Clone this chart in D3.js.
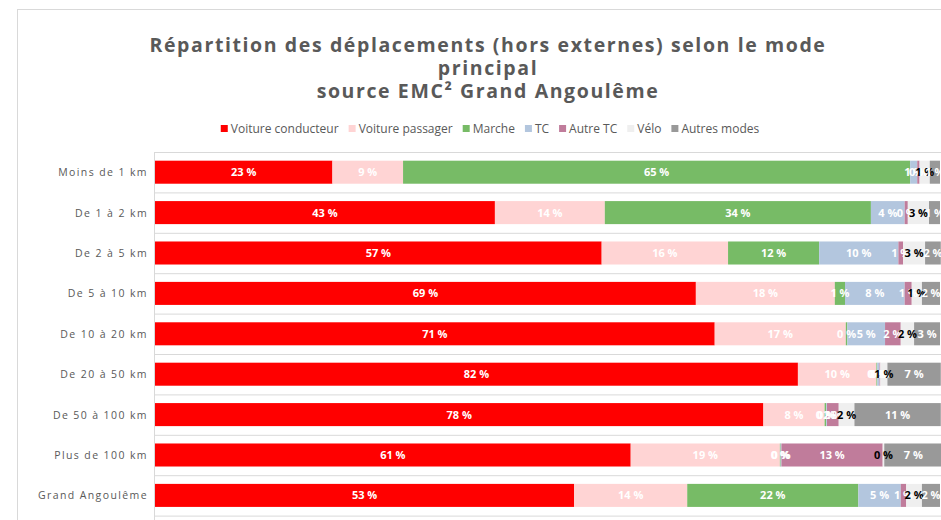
<!DOCTYPE html>
<html>
<head>
<meta charset="utf-8">
<script src="https://cdn.jsdelivr.net/npm/d3@7"></script>
<style>
  body { margin: 0; background: #fff; }
  text { font-family: "Open Sans", sans-serif; }
</style>
</head>
<body>
<svg id="chart" width="941" height="520"></svg>
<script>
// categories (top to bottom)
const categories = ["Moins de 1 km", "De 1 à 2 km", "De 2 à 5 km", "De 5 à 10 km", "De 10 à 20 km",
                    "De 20 à 50 km", "De 50 à 100 km", "Plus de 100 km", "Grand Angoulême"]
const modes = ["Voiture conducteur", "Voiture passager", "Marche", "TC", "Autre TC", "Vélo", "Autres modes"]
const modeColors = ["#ff0000", "#ffd4d4", "#77bb66", "#b3c6de", "#c07c9b", "#efefef", "#999999"]

// share of each mode (%), same order as categories
const voitureConducteur = [22.6, 43.3, 56.9, 68.9, 71.3, 81.9, 77.5, 60.6, 53.4]
const voiturePassager   = [9.0, 14.0, 16.1, 17.7, 16.7, 10.0, 7.8, 19.0, 14.4]
const marche            = [64.6, 33.9, 11.6, 1.3, 0.2, 0.1, 0.2, 0.1, 21.8]
const tc                = [0.9, 4.3, 10.1, 7.6, 4.8, 0.3, 0.1, 0.1, 5.4]
const autreTc           = [0.3, 0.4, 0.6, 0.9, 2.0, 0.1, 1.5, 12.9, 0.7]
const velo              = [1.3, 2.7, 2.8, 1.3, 1.7, 0.9, 2.0, 0.2, 2.0]
const autresModes       = [1.3, 1.4, 2.0, 2.3, 3.3, 6.8, 11.0, 7.4, 2.3]

const titleLines = ["Répartition des déplacements (hors externes) selon le mode", "principal", "source EMC² Grand Angoulême"]

let series = [voitureConducteur, voiturePassager, marche, tc, autreTc, velo, autresModes]
let rows = categories.map((c, i) => {
    let r = {cat: c}
    modes.forEach((m, j) => r[m] = series[j][i])
    return r
})
let stacked = d3.stack().keys(modes)(rows)

let svg = d3.select("#chart")
const grey = "#595959"
const lineCol = "#d9d9d9"

// outer chart frame
svg.append("rect").attr("x", 17.5).attr("y", 9.5).attr("width", 960).attr("height", 560)
   .attr("fill", "none").attr("stroke", lineCol)

// title
svg.append("g").selectAll("text")
   .data(titleLines)
   .enter()
   .append("text")
     .attr("x", 488)
     .attr("y", (d, i) => 52 + i * 23)
     .attr("text-anchor", "middle")
     .attr("font-size", 19.5)
     .attr("font-weight", "bold")
     .attr("letter-spacing", 1.6)
     .attr("fill", grey)
     .text(d => d)

// legend
let legend = svg.append("g")
let lx = 0
modes.forEach((m, i) => {
    let g = legend.append("g").attr("transform", `translate(${lx},0)`)
    g.append("rect").attr("x", 0).attr("y", -4).attr("width", 7).attr("height", 7).attr("fill", modeColors[i])
    let t = g.append("text").attr("x", 10).attr("y", 4).attr("font-size", 12).attr("fill", grey).text(m)
    lx += 10 + t.node().getComputedTextLength() + 10
})
legend.attr("transform", `translate(${490 - (lx - 10) / 2},129)`)

const margin = {left: 155, top: 152}
let xScale = d3.scaleLinear().domain([0, 100]).range([margin.left, 940])
let yScale = d3.scaleBand()
               .domain(categories)
               .range([margin.top, margin.top + 9 * 40.4])
               .paddingInner(0.43)
               .paddingOuter(0.215)

// plot frame + category separators
let half = yScale.step() * yScale.paddingInner() / 2
svg.append("g").selectAll("line")
   .data(categories)
   .enter()
   .append("line")
     .attr("x1", margin.left - 1).attr("x2", 941)
     .attr("y1", d => yScale(d) + yScale.bandwidth() + half + 0.5)
     .attr("y2", d => yScale(d) + yScale.bandwidth() + half + 0.5)
     .attr("stroke", lineCol)
svg.append("line").attr("x1", margin.left - 1).attr("x2", 941).attr("y1", margin.top + 0.5).attr("y2", margin.top + 0.5)
   .attr("stroke", lineCol)
svg.append("line").attr("x1", margin.left - 0.5).attr("x2", margin.left - 0.5).attr("y1", margin.top).attr("y2", 520)
   .attr("stroke", lineCol)

// category labels
svg.append("g").selectAll("text")
   .data(categories)
   .enter()
   .append("text")
     .attr("x", 148)
     .attr("y", d => yScale(d) + yScale.bandwidth() / 2 + 4)
     .attr("text-anchor", "end")
     .attr("font-size", 10.5)
     .attr("letter-spacing", 1.4)
     .attr("fill", grey)
     .text(d => d)

// bars
let layers = svg.append("g").selectAll("g")
   .data(stacked)
   .enter()
   .append("g")
     .attr("fill", (d, i) => modeColors[i])

layers.selectAll("rect")
   .data(d => d)
   .enter()
   .append("rect")
     .attr("x", d => xScale(d[0]))
     .attr("y", d => yScale(d.data.cat))
     .attr("width", d => xScale(d[1]) - xScale(d[0]))
     .attr("height", yScale.bandwidth())

// data labels (Vélo in black, others white)
stacked.forEach((layer, i) => {
    svg.append("g").selectAll("text")
       .data(layer)
       .enter()
       .append("text")
         .attr("x", d => (xScale(d[0]) + xScale(d[1])) / 2)
         .attr("y", d => yScale(d.data.cat) + yScale.bandwidth() / 2 + 4)
         .attr("text-anchor", "middle")
         .attr("font-size", 11)
         .attr("font-weight", "bold")
         .attr("fill", modes[i] == "Vélo" ? "#000" : "#fff")
         .text(d => Math.round(d[1] - d[0]) + " %")
})
</script>
</body>
</html>
